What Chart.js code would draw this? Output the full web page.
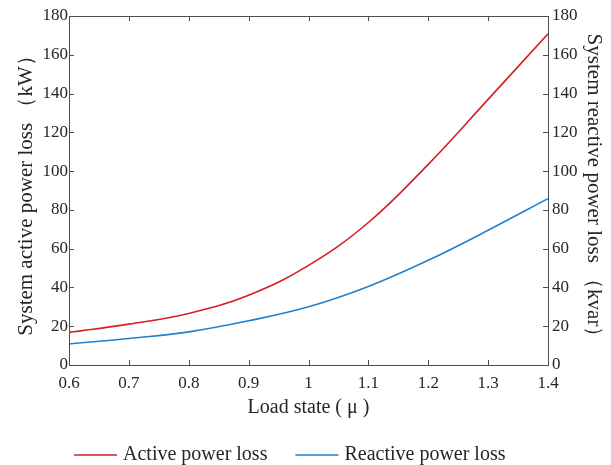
<!DOCTYPE html>
<html>
<head>
<meta charset="utf-8">
<script src="https://cdn.jsdelivr.net/npm/chart.js@4.4.1/dist/chart.umd.min.js"></script>
<style>
  html, body { margin: 0; padding: 0; background: #fff; }
  #wrap { width: 611px; height: 465px; }
</style>
</head>
<body>
<div id="wrap"><canvas id="myChart" width="611" height="465"></canvas></div>
<script>
// datos
const loadState = [0.6, 0.7, 0.8, 0.9, 1.0, 1.1, 1.2, 1.3, 1.4];
const activeLoss = [16.8, 21.1, 26.6, 36.0, 51.4, 73.5, 103.5, 137.0, 170.8];
const reactiveLoss = [10.8, 13.7, 17.1, 22.8, 30.0, 40.5, 54.0, 69.5, 85.8];
const yTicks = [0, 20, 40, 60, 80, 100, 120, 140, 160, 180];
const xTicks = [0.6, 0.7, 0.8, 0.9, 1.0, 1.1, 1.2, 1.3, 1.4];

const textColor = "#262626";
const axisColor = "#4d4d4d";
const fontFam = "'Liberation Serif', 'Times New Roman', serif";

const activeData = loadState.map((x, i) => ({ x: x, y: activeLoss[i] }));
const reactiveData = loadState.map((x, i) => ({ x: x, y: reactiveLoss[i] }));

// caja + ticks hacia adentro + leyenda (estilo matlab)
const matlabBox = {
  id: "matlabBox",
  afterDraw(chart) {
    const ctx = chart.ctx;
    const a = chart.chartArea;
    const xs = chart.scales.x;
    const ys = chart.scales.y;
    const tl = 5;
    ctx.save();
    ctx.strokeStyle = axisColor;
    ctx.lineWidth = 1;
    ctx.strokeRect(Math.round(a.left) + 0.5, Math.round(a.top) + 0.5,
      Math.round(a.right - a.left), Math.round(a.bottom - a.top));
    ctx.beginPath();
    xTicks.forEach(function (v) {
      const px = Math.round(xs.getPixelForValue(v)) + 0.5;
      ctx.moveTo(px, a.bottom); ctx.lineTo(px, a.bottom - tl);
      ctx.moveTo(px, a.top); ctx.lineTo(px, a.top + tl);
    });
    yTicks.forEach(function (v) {
      const py = Math.round(ys.getPixelForValue(v)) + 0.5;
      ctx.moveTo(a.left, py); ctx.lineTo(a.left + tl, py);
      ctx.moveTo(a.right, py); ctx.lineTo(a.right - tl, py);
    });
    ctx.stroke();

    // leyenda
    ctx.font = "20px " + fontFam;
    ctx.textBaseline = "middle";
    ctx.fillStyle = textColor;
    const ly = 455;
    let lx = 74;
    chart.data.datasets.forEach(function (ds) {
      ctx.strokeStyle = ds.borderColor;
      ctx.lineWidth = 1.5;
      ctx.beginPath();
      ctx.moveTo(lx, ly); ctx.lineTo(lx + 43, ly);
      ctx.stroke();
      ctx.fillText(ds.label, lx + 49, ly);
      lx = lx + 49 + ctx.measureText(ds.label).width + 28;
    });
    ctx.restore();
  },
};

const ctx = document.getElementById("myChart").getContext("2d");

const config = {
  type: "line",
  data: {
    datasets: [
      {
        label: "Active power loss",
        data: activeData,
        yAxisID: "y",
        borderColor: "#d42020",
        borderWidth: 1.6,
        pointRadius: 0,
        tension: 0.4,
      },
      {
        label: "Reactive power loss",
        data: reactiveData,
        yAxisID: "y2",
        borderColor: "#1f80d0",
        borderWidth: 1.6,
        pointRadius: 0,
        tension: 0.4,
      },
    ],
  },
  options: {
    responsive: false,
    animation: false,
    layout: { padding: { top: 16, left: 0, right: 0, bottom: 0 } },
    plugins: {
      legend: { display: false },
      tooltip: { enabled: false },
    },
    scales: {
      x: {
        type: "linear",
        min: 0.6,
        max: 1.4,
        afterBuildTicks: function (s) { s.ticks = xTicks.map(v => ({ value: v })); },
        afterFit: function (s) { s.height = 100; },
        border: { display: false },
        grid: { display: false, drawTicks: false },
        ticks: {
          padding: 8,
          color: textColor,
          font: { family: fontFam, size: 17 },
          callback: function (v) { return String(Math.round(v * 10) / 10); },
        },
        title: {
          display: true,
          text: "Load state ( μ )",
          color: textColor,
          font: { family: fontFam, size: 20 },
          padding: { top: 4, bottom: 45 },
        },
      },
      y: {
        position: "left",
        min: 0,
        max: 180,
        afterBuildTicks: function (s) { s.ticks = yTicks.map(v => ({ value: v })); },
        afterFit: function (s) { s.width = 69; },
        border: { display: false },
        grid: { display: false, drawTicks: false },
        ticks: { padding: 1, color: textColor, font: { family: fontFam, size: 17 } },
        title: {
          display: true,
          text: "System active power loss （kW）",
          color: textColor,
          font: { family: fontFam, size: 21 },
          padding: { top: 14, bottom: 0 },
        },
      },
      y2: {
        position: "right",
        min: 0,
        max: 180,
        afterBuildTicks: function (s) { s.ticks = yTicks.map(v => ({ value: v })); },
        afterFit: function (s) { s.width = 63; },
        border: { display: false },
        grid: { display: false, drawTicks: false },
        ticks: { padding: 4, color: textColor, font: { family: fontFam, size: 17 } },
        title: {
          display: true,
          text: "System reactive power loss （kvar）",
          color: textColor,
          font: { family: fontFam, size: 21 },
          padding: { top: 5, bottom: 0 },
        },
      },
    },
  },
  plugins: [matlabBox],
};

const myChart = new Chart(ctx, config);
</script>
</body>
</html>
